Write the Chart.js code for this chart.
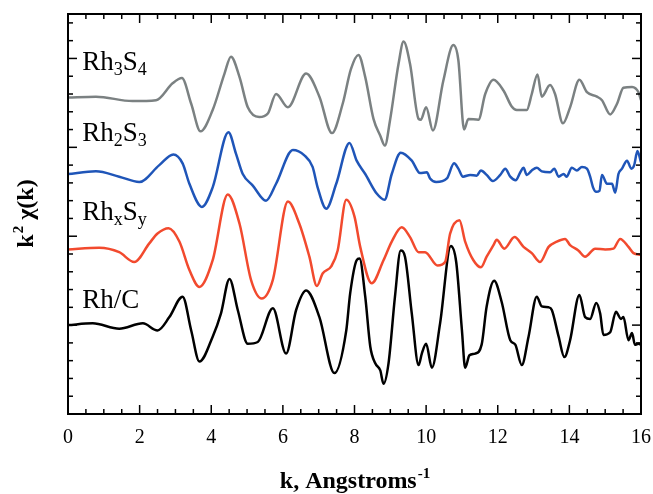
<!DOCTYPE html>
<html>
<head>
<meta charset="utf-8">
<script src="https://cdn.jsdelivr.net/npm/chart.js@4"></script>
<style>
  body { margin: 0; background: #fff; }
  canvas { display: block; }
</style>
</head>
<body>
<canvas id="exafs" width="653" height="494"></canvas>
<script>
// tick labels on the k axis
const kTicks = [0, 2, 4, 6, 8, 10, 12, 14, 16];

// Rh3S4 (gray)
const kRh3S4 = [0, 0.78, 1.8, 2.46, 2.92, 3.18, 3.44, 3.70, 4.04, 4.37,
    4.55, 4.79, 5.02, 5.34, 5.58, 5.81, 6.14, 6.65, 7.02, 7.37,
    7.67, 7.90, 8.11, 8.30, 8.53, 8.72, 8.85, 8.99, 9.23, 9.37,
    9.55, 9.79, 9.85, 10.0, 10.19, 10.48, 10.76, 10.90, 11.06, 11.18,
    11.46, 11.65, 11.88, 12.16, 12.39, 12.53, 12.81, 12.95, 13.11, 13.23,
    13.46, 13.60, 13.82, 14.02, 14.28, 14.49, 14.77, 14.91, 15.14, 15.33,
    15.51, 15.75, 15.93, 16.0];
const chiRh3S4 = [3.56, 3.57, 3.52, 3.53, 3.72, 3.78, 3.49, 3.18, 3.42, 3.83,
    4.02, 3.79, 3.45, 3.34, 3.38, 3.60, 3.45, 3.83, 3.57, 3.16,
    3.49, 3.88, 4.04, 3.79, 3.32, 3.13, 3.02, 3.30, 3.94, 4.19,
    3.94, 3.32, 3.31, 3.45, 3.19, 3.75, 4.15, 3.98, 3.20, 3.32,
    3.31, 3.60, 3.76, 3.64, 3.46, 3.42, 3.42, 3.60, 3.82, 3.57,
    3.70, 3.60, 3.27, 3.45, 3.76, 3.62, 3.57, 3.53, 3.37, 3.49,
    3.67, 3.68, 3.62, 3.53];

// Rh2S3 (blue)
const kRh2S3 = [0, 0.78, 1.43, 1.99, 2.55, 2.94, 3.20, 3.39, 3.74, 4.04,
    4.48, 4.69, 4.88, 5.16, 5.53, 5.81, 6.28, 6.60, 6.83, 6.97,
    7.21, 7.49, 7.86, 8.06, 8.30, 8.62, 8.84, 9.04, 9.29, 9.60,
    9.83, 10.02, 10.11, 10.28, 10.58, 10.78, 10.90, 11.03, 11.23, 11.41,
    11.53, 11.69, 11.86, 12.07, 12.21, 12.35, 12.50, 12.63, 12.72, 12.81,
    12.95, 13.09, 13.23, 13.46, 13.58, 13.70, 13.84, 13.92, 14.07, 14.21,
    14.35, 14.49, 14.58, 14.66, 14.75, 14.84, 14.91, 15.05, 15.19, 15.28,
    15.37, 15.47, 15.61, 15.73, 15.81, 15.90, 16.0];
const chiRh2S3 = [2.70, 2.73, 2.67, 2.61, 2.80, 2.92, 2.82, 2.59, 2.33, 2.55,
    3.17, 2.93, 2.70, 2.57, 2.40, 2.59, 2.97, 2.91, 2.78, 2.55,
    2.31, 2.59, 3.05, 2.85, 2.70, 2.48, 2.41, 2.70, 2.94, 2.85,
    2.71, 2.72, 2.65, 2.61, 2.65, 2.82, 2.76, 2.67, 2.69, 2.68,
    2.74, 2.69, 2.62, 2.69, 2.76, 2.67, 2.63, 2.72, 2.77, 2.69,
    2.74, 2.77, 2.73, 2.72, 2.76, 2.67, 2.70, 2.67, 2.77, 2.74,
    2.78, 2.76, 2.67, 2.55, 2.50, 2.51, 2.69, 2.59, 2.59, 2.49,
    2.70, 2.76, 2.85, 2.76, 2.80, 2.96, 2.83];

// RhxSy (red)
const kRhxSy = [0, 0.87, 1.43, 1.85, 2.27, 2.50, 2.81, 3.11, 3.39, 3.67,
    4.04, 4.46, 4.79, 5.11, 5.41, 5.72, 6.14, 6.46, 6.74, 6.95,
    7.11, 7.35, 7.53, 7.77, 8.0, 8.16, 8.48, 8.81, 9.04, 9.32,
    9.55, 9.79, 9.97, 10.32, 10.53, 10.67, 10.93, 11.09, 11.32, 11.53,
    11.69, 11.88, 11.97, 12.18, 12.47, 12.72, 12.95, 13.18, 13.42, 13.65,
    13.88, 14.02, 14.25, 14.44, 14.72, 15.0, 15.23, 15.42, 15.65, 15.79,
    16.0];
const chiRhxSy = [1.85, 1.87, 1.82, 1.71, 1.92, 2.03, 2.09, 1.94, 1.62, 1.43,
    1.73, 2.47, 2.14, 1.51, 1.30, 1.51, 2.39, 2.14, 1.77, 1.44,
    1.58, 1.66, 1.84, 2.41, 2.22, 1.88, 1.47, 1.73, 1.94, 2.10,
    1.99, 1.82, 1.82, 1.67, 1.71, 2.03, 2.18, 1.94, 1.73, 1.65,
    1.77, 1.90, 1.96, 1.86, 1.99, 1.88, 1.81, 1.71, 1.88, 1.94,
    1.97, 1.90, 1.84, 1.77, 1.86, 1.85, 1.86, 1.97, 1.88, 1.81,
    1.79];

// Rh/C (black)
const kRhC = [0, 0.69, 1.43, 2.09, 2.50, 2.83, 3.20, 3.44, 3.67, 4.04,
    4.27, 4.51, 4.74, 5.02, 5.30, 5.72, 6.09, 6.37, 6.65, 7.02,
    7.44, 7.77, 7.88, 8.06, 8.14, 8.30, 8.44, 8.58, 8.72, 8.81,
    8.95, 9.13, 9.29, 9.41, 9.60, 9.79, 9.88, 10.0, 10.16, 10.39,
    10.69, 10.84, 11.0, 11.09, 11.21, 11.37, 11.55, 11.69, 11.90, 12.11,
    12.35, 12.49, 12.67, 12.86, 13.09, 13.23, 13.42, 13.51, 13.70, 13.86,
    14.02, 14.28, 14.44, 14.58, 14.75, 14.86, 14.95, 15.14, 15.30, 15.44,
    15.51, 15.65, 15.75, 15.83, 15.93, 16.0];
const chiRhC = [1.00, 1.02, 0.96, 1.02, 0.94, 1.09, 1.32, 0.94, 0.59, 0.87,
    1.13, 1.52, 1.17, 0.79, 0.81, 1.19, 0.68, 1.17, 1.39, 1.09,
    0.46, 0.94, 1.36, 1.73, 1.75, 1.32, 0.76, 0.57, 0.49, 0.34,
    0.57, 1.32, 1.84, 1.77, 1.13, 0.55, 0.68, 0.79, 0.52, 1.02,
    1.89, 1.71, 0.94, 0.52, 0.66, 0.68, 0.78, 1.21, 1.50, 1.26,
    0.83, 0.78, 0.55, 0.87, 1.32, 1.21, 1.20, 1.17, 0.87, 0.64,
    0.83, 1.34, 1.09, 1.07, 1.25, 1.13, 0.89, 0.92, 1.15, 1.07,
    1.09, 0.83, 0.91, 0.78, 0.79, 0.78];

// curve names, each split into [text, isSubscript] pieces
const seriesNames = [
    [['Rh', 0], ['3', 1], ['S', 0], ['4', 1]],
    [['Rh', 0], ['2', 1], ['S', 0], ['3', 1]],
    [['Rh', 0], ['x', 1], ['S', 0], ['y', 1]],
    [['Rh/C', 0]]
];
const nameAnchorK = 0.4;
const nameAnchorChi = [3.87, 3.07, 2.18, 1.19];

const serif = '"Liberation Serif", "Times New Roman", serif';

function zip(ks, vs) {
    return ks.map((k, i) => ({ x: k, y: vs[i] }));
}

function linha(ctx, x1, y1, x2, y2) {
    ctx.beginPath();
    ctx.moveTo(x1, y1);
    ctx.lineTo(x2, y2);
    ctx.stroke();
}

const moldura = {
    id: 'moldura',
    afterDatasetsDraw(chart) {
        const ctx = chart.ctx;
        const xs = chart.scales.x, ys = chart.scales.y;
        // curve names with subscripts
        ctx.save();
        ctx.fillStyle = '#000';
        ctx.textBaseline = 'alphabetic';
        seriesNames.forEach((partes, i) => {
            let px = xs.getPixelForValue(nameAnchorK);
            const py = ys.getPixelForValue(nameAnchorChi[i]);
            partes.forEach(([txt, sub]) => {
                ctx.font = sub ? '18px ' + serif : '27px ' + serif;
                ctx.fillText(txt, px, sub ? py + 5 : py);
                px += ctx.measureText(txt).width;
            });
        });
        ctx.restore();
    },
    afterDraw(chart) {
        const ctx = chart.ctx;
        const { left, right, top, bottom } = chart.chartArea;
        const xs = chart.scales.x, ys = chart.scales.y;
        ctx.save();
        ctx.strokeStyle = '#000';
        ctx.lineWidth = 1.5;
        // inward ticks, every 0.5 on k and every 0.2 on chi
        for (let i = 0; i <= 32; i++) {
            const px = xs.getPixelForValue(i * 0.5);
            const len = i % 4 === 0 ? 9 : 5;
            linha(ctx, px, bottom, px, bottom - len);
            linha(ctx, px, top, px, top + len);
        }
        for (let i = 0; i <= 22; i++) {
            const py = ys.getPixelForValue(i * 0.2);
            const len = i % 5 === 0 ? 9 : 5;
            linha(ctx, left, py, left + len, py);
            linha(ctx, right, py, right - len, py);
        }
        ctx.lineWidth = 2;
        ctx.strokeRect(left, top, right - left, bottom - top);

        // axis titles
        ctx.fillStyle = '#000';
        ctx.textBaseline = 'alphabetic';
        const cx = (left + right) / 2;
        ctx.font = 'bold 24px ' + serif;
        const t1 = 'k, Angstroms';
        const w1 = ctx.measureText(t1).width;
        ctx.font = 'bold 15px ' + serif;
        const w2 = ctx.measureText('-1').width;
        let x0 = cx - (w1 + w2) / 2;
        ctx.font = 'bold 24px ' + serif;
        ctx.fillText(t1, x0, 488);
        ctx.font = 'bold 15px ' + serif;
        ctx.fillText('-1', x0 + w1 + 1, 478);

        ctx.translate(33, (top + bottom) / 2);
        ctx.rotate(-Math.PI / 2);
        ctx.font = 'bold 24px ' + serif;
        const a = 'k', b = ' \u03c7(k)';
        const wa = ctx.measureText(a).width, wb = ctx.measureText(b).width;
        ctx.font = 'bold 15px ' + serif;
        const ws = ctx.measureText('2').width;
        let y0 = -(wa + ws + wb) / 2;
        ctx.font = 'bold 24px ' + serif;
        ctx.fillText(a, y0, 0);
        ctx.font = 'bold 15px ' + serif;
        ctx.fillText('2', y0 + wa + 1, -10);
        ctx.font = 'bold 24px ' + serif;
        ctx.fillText(b, y0 + wa + ws + 1, 0);
        ctx.restore();
    }
};

const ctx = document.getElementById('exafs').getContext('2d');
new Chart(ctx, {
    type: 'scatter',
    data: {
        datasets: [
            { label: 'Rh3S4', data: zip(kRh3S4, chiRh3S4), borderColor: '#7b8182' },
            { label: 'Rh2S3', data: zip(kRh2S3, chiRh2S3), borderColor: '#1f55b8' },
            { label: 'RhxSy', data: zip(kRhxSy, chiRhxSy), borderColor: '#f24a2e' },
            { label: 'Rh/C', data: zip(kRhC, chiRhC), borderColor: '#000000' }
        ].map(d => Object.assign(d, {
            showLine: true,
            pointRadius: 0,
            borderWidth: 2.5,
            cubicInterpolationMode: 'monotone',
            fill: false
        }))
    },
    options: {
        responsive: false,
        animation: false,
        events: [],
        layout: { padding: { top: 14, right: 12, left: 0, bottom: 0 } },
        plugins: {
            legend: { display: false },
            tooltip: { enabled: false }
        },
        scales: {
            x: {
                type: 'linear',
                min: 0,
                max: 16,
                afterBuildTicks: s => { s.ticks = kTicks.map(v => ({ value: v })); },
                afterFit: s => { s.height = 80; s.paddingLeft = 0; s.paddingRight = 0; },
                grid: { display: false, drawTicks: false },
                border: { display: false },
                ticks: {
                    color: '#000',
                    padding: 12,
                    maxRotation: 0,
                    font: { family: serif, size: 20 }
                }
            },
            y: {
                min: 0,
                max: 4.5,
                afterFit: s => { s.width = 68; s.paddingTop = 0; s.paddingBottom = 0; },
                grid: { display: false, drawTicks: false },
                border: { display: false },
                ticks: { display: false }
            }
        }
    },
    plugins: [moldura]
});
</script>
</body>
</html>
